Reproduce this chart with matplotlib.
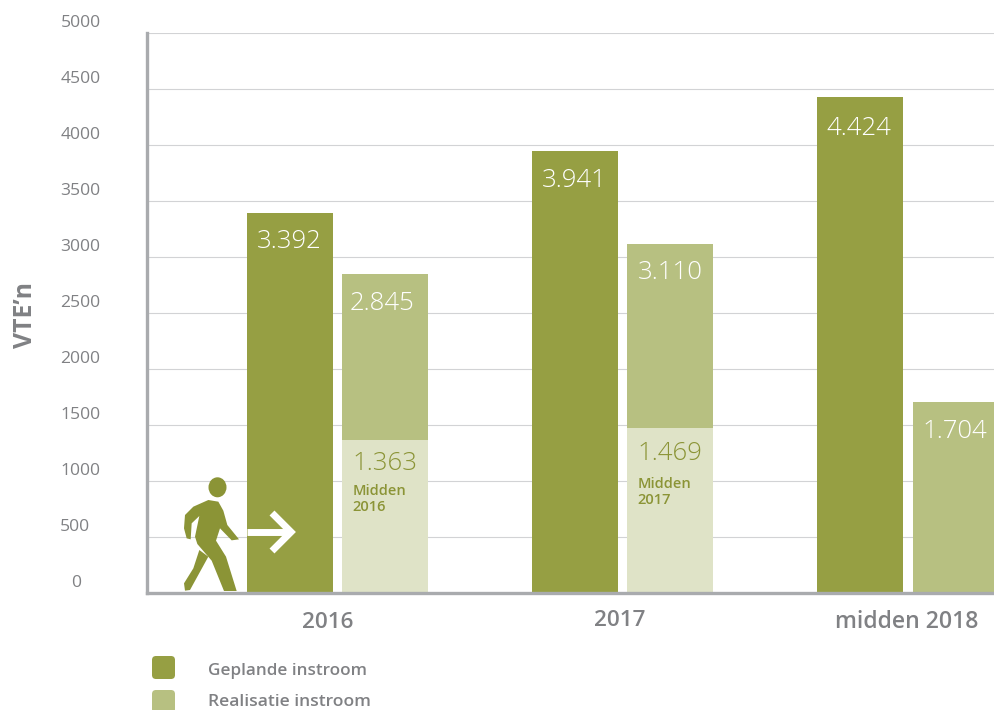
import matplotlib
matplotlib.use("Agg")
import matplotlib.pyplot as plt
from matplotlib.patches import FancyBboxPatch, Ellipse, Polygon
from matplotlib.transforms import Affine2D

categories = ["2016", "2017", "midden 2018"]
geplande = [3392, 3941, 4424]
realisatie = [2845, 3110, 1704]
midden = [1363, 1469, None]
midden_labels = ["Midden\n2016", "Midden\n2017", None]
geplande_labels = ["3.392", "3.941", "4.424"]
realisatie_labels = ["2.845", "3.110", "1.704"]
midden_value_labels = ["1.363", "1.469", None]
yticks = [0, 500, 1000, 1500, 2000, 2500, 3000, 3500, 4000, 4500, 5000]
legend_labels = ["Geplande instroom", "Realisatie instroom"]

DARK = "#969F43"
MID = "#B7C081"
LIGHT = "#DFE3C7"
OLIVE = "#8B9436"
GREY = "#808184"
W, H = 994, 710
FONT = "Open Sans"
plt.rcParams["font.family"] = FONT

fig = plt.figure(figsize=(W / 100, H / 100), dpi=100)
ax = fig.add_axes([147 / W, (H - 592.6) / H, (W - 147) / W, 560 / H])
ax.set_xlim(-0.668, 2.303)
ax.set_ylim(0, 5000)

bw = 86 / 285
off = 47.5 / 285
g_drop = [150, 150, 165]
r_drop = [155, 140, 150]
r_dx = [-0.01, 0, 0.0]
m_drop = [95, 115]
n_drop = [390, 435]
n_dx = [-0.115, -0.115]
for i in range(3):
    ax.bar(i - off, geplande[i], bw, color=DARK, zorder=3)
    ax.bar(i + off + (0.004 if i == 2 else 0), realisatie[i], bw, color=MID, zorder=3)
    if midden[i] is not None:
        ax.bar(i + off, midden[i], bw, color=LIGHT, zorder=4)
        ax.text(i + off, midden[i] - m_drop[i], midden_value_labels[i], color=OLIVE, fontsize=18.5,
                fontweight="light", ha="center", va="top", zorder=6)
        ax.text(i + off + n_dx[i], midden[i] - n_drop[i], midden_labels[i], color=OLIVE, fontsize=10.5,
                fontweight="semibold", ha="left", va="top", linespacing=1.2, zorder=6)
    ax.text(i - off - 0.004, geplande[i] - g_drop[i], geplande_labels[i], color="white", fontsize=18.5,
            fontweight="light", ha="center", va="top", zorder=6)
    ax.text(i + off + r_dx[i], realisatie[i] - r_drop[i], realisatie_labels[i], color="white",
            fontsize=18.5, fontweight="light", ha="center", va="top", zorder=6)

ax.set_yticks(yticks)
ax.set_yticklabels([])
ax.tick_params(left=False, bottom=False, labelbottom=False)
ax.grid(axis="y", color="#D2D3D5", linewidth=0.8, zorder=0)
ax.set_axisbelow(True)
for s in ["top", "right"]:
    ax.spines[s].set_visible(False)
for s in ["left", "bottom"]:
    ax.spines[s].set_color("#A9ABAE")
    ax.spines[s].set_linewidth(2.4)
    ax.spines[s].set_zorder(5)

px = Affine2D().scale(1, -1).translate(0, H)

tick_x = {0: 76, 500: 75}
for t in yticks:
    y_pix = 593 - t * 0.112
    fig.text(tick_x.get(t, 80.5) / W, (H - (y_pix - 10)) / H, str(t), color=GREY, fontsize=12.6,
             fontweight="normal", ha="center", va="center")

fig.text(26 / W, (H - 315) / H, "VTE\u2019n", color=GREY, fontsize=17.8, fontweight="bold",
         rotation=90, ha="center", va="center")

for x, y, c, fs in zip([328, 620, 907], [622.5, 620.5, 622], categories, [16.2, 16.2, 16.6]):
    fig.text(x / W, (H - y) / H, c, color=GREY, fontsize=fs, fontweight="semibold",
             ha="center", va="center")

# legend
for y0, ty, col, lab, fs in zip([656, 690], [671, 702.5], [DARK, MID], legend_labels, [12.3, 12.6]):
    fig.add_artist(FancyBboxPatch((155, y0 + 3), 17, 17, boxstyle="round,pad=3,rounding_size=4",
                                  fc=col, ec="none", transform=px))
    fig.text(208 / W, (H - ty) / H, lab, color=GREY, fontsize=fs, fontweight="semibold",
             ha="left", va="center")

# arrow
arr = dict(color="white", lw=5, transform=px, solid_capstyle="butt", zorder=8)
fig.add_artist(plt.Line2D([247, 288], [532, 532], **arr))
fig.add_artist(plt.Line2D([272, 291, 272], [513, 532, 551], solid_joinstyle="miter", **arr))

# walking person (outline)
def z(points):
    return [(140 + a / 3, 440 + b / 3) for a, b in points]

fig.add_artist(Ellipse((217.5, 487.3), 18, 20, fc=OLIVE, ec="none", transform=px, zorder=8))
body = [(205, 180), (235, 185), (250, 212), (262, 255), (297, 298), (275, 301), (240, 265),
        (228, 302), (258, 350), (290, 453), (252, 453), (215, 362), (172, 312), (165, 290),
        (178, 228), (155, 250), (152, 298), (140, 295), (132, 265), (135, 225), (160, 200)]
leg = [(178, 330), (205, 350), (150, 450), (135, 452), (132, 430), (160, 385)]
fig.add_artist(Polygon(z(body), closed=True, fc=OLIVE, ec="none", transform=px, zorder=8))
fig.add_artist(Polygon(z(leg), closed=True, fc=OLIVE, ec="none", transform=px, zorder=8))

fig.savefig("out.png", dpi=100)
